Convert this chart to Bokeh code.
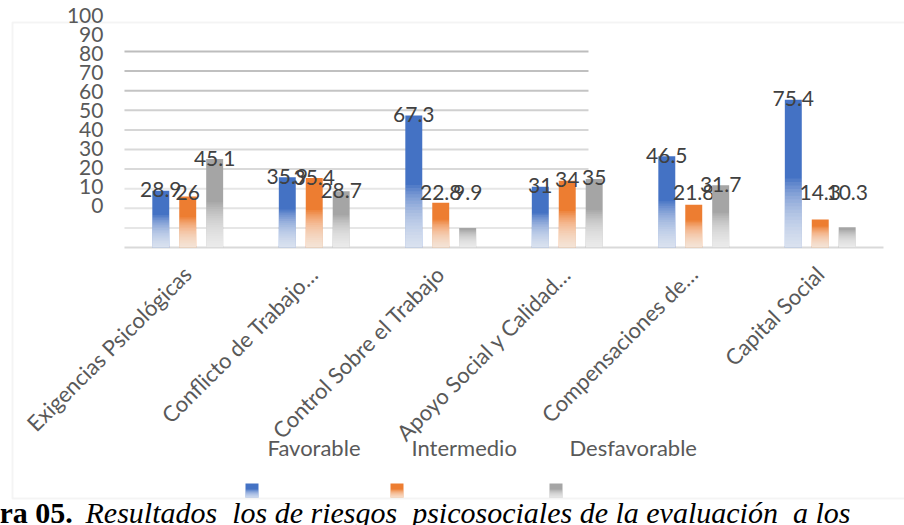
import math

from bokeh.core.properties import value
from bokeh.embed import file_html
from bokeh.models import (BoxAnnotation, ColumnDataSource, FixedTicker,
                          Label, LinearAxis, Range1d)
from bokeh.plotting import figure
from bokeh.resources import INLINE
from bokeh.transform import dodge

# ---------------------------------------------------------------- data
categories = [
    "Exigencias Psicológicas",
    "Conflicto de Trabajo…",
    "Control Sobre el Trabajo",
    "Apoyo Social y Calidad…",
    "Compensaciones de…",
    "Capital Social",
]
series_names = ["Favorable", "Intermedio", "Desfavorable"]
favorable = [28.9, 35.9, 67.3, 31, 46.5, 75.4]
intermedio = [26, 35.4, 22.8, 34, 21.8, 14.3]
desfavorable = [45.1, 28.7, 9.9, 35, 31.7, 10.3]
tick_labels = [0, 10, 20, 30, 40, 50, 60, 70, 80, 90, 100]
grid_values = [10, 20, 30, 40, 50, 60, 70, 80, 90, 100]
caption_bold = "ra 05."
caption_italic = ("Resultados\u00a0 los de riesgos\u00a0 psicosociales de la "
                  "evaluación\u00a0 a los")

# ---------------------------------------------------------------- style
FONT = "Lato"
SERIF = "Liberation Serif"
colors = ["#4472C4", "#ED7D31", "#A5A5A5"]
offsets = [-0.213, 0.0, 0.213]
BAR_W = 0.134
TEXT_GREY = "#595959"
LABEL_GREY = "#404040"
grid_colors = ["#e6e6e6", "#e3e3e3", "#e6e6e6", "#d9d9d9", "#d9d9d9",
               "#d6d6d6", "#d0d0d0", "#c4c4c4", "#c0c0c0", "#bdbdbd"]

W, H = 904, 525
X_RANGE = (-0.980, 6.166)      # category slots 0..6 plus the surrounding page
Y_RANGE = (-141.8, 126.0)      # value axis, zero sits on the category baseline
LABEL_RANGE = (-168.4, 107.9)  # range used by the printed value scale
GRID_END = 3.668               # horizontal gridlines stop part way across
LABEL_FLOOR = 27.5             # data labels never sit lower than this

p = figure(
    width=W, height=H,
    x_range=Range1d(*X_RANGE), y_range=Range1d(*Y_RANGE),
    x_axis_location=None, y_axis_location=None,
    output_backend="svg", toolbar_location=None,
    min_border=0, min_border_left=0, min_border_right=0,
    min_border_top=0, min_border_bottom=0,
    background_fill_color="white", border_fill_color="white",
)
p.outline_line_color = None
p.grid.grid_line_color = None

# outer chart box (top and left edges visible on the page)
p.add_layout(BoxAnnotation(
    left=12, right=W + 20, top=H - 22, bottom=H - 498,
    left_units="screen", right_units="screen", top_units="screen", bottom_units="screen",
    fill_alpha=0, line_color="#d9d9d9", line_width=2, level="underlay",
))

positions = [i + 0.5 for i in range(len(categories))]

# horizontal gridlines and the category baseline
p.segment(x0=[0] * len(grid_values), x1=[GRID_END] * len(grid_values),
          y0=grid_values, y1=grid_values, line_color=grid_colors, line_width=2)
p.segment(x0=[0], x1=[len(categories)], y0=[0], y1=[0], line_color="#d9d9d9", line_width=2)

# printed value scale on the left
p.extra_y_ranges = {"lab": Range1d(*LABEL_RANGE)}
lab_axis = LinearAxis(
    y_range_name="lab", ticker=FixedTicker(ticks=tick_labels), fixed_location=0,
    axis_line_color=None, major_tick_line_color=None, minor_tick_line_color=None,
    major_tick_out=0, major_tick_in=0, major_label_standoff=21,
    major_label_text_font=FONT, major_label_text_font_size="21px",
    major_label_text_color=TEXT_GREY,
)
p.add_layout(lab_axis, "left")

# bars with a fade towards the baseline
N_FADE = 20
for vals, col, off in zip([favorable, intermedio, desfavorable], colors, offsets):
    src = ColumnDataSource(dict(pos=positions, v=vals))
    p.vbar(x=dodge("pos", off), top="v", bottom=0, width=BAR_W,
           fill_color=col, line_color=None, source=src)
    fade_pos, fade_top = [], []
    for x, v in zip(positions, vals):
        f_top = min(v, 0.4 * v + 5)
        for k in range(N_FADE):
            fade_pos.append(x)
            fade_top.append(f_top * (k + 1) / N_FADE)
    p.vbar(x=dodge("pos", off), top="t", bottom=0, width=BAR_W,
           fill_color="white", fill_alpha=0.082, line_color=None,
           source=ColumnDataSource(dict(pos=fade_pos, t=fade_top)))
    p.text(x=dodge("pos", off), y="ly", text="txt",
           source=ColumnDataSource(dict(pos=positions,
                                        ly=[max(v, LABEL_FLOOR) for v in vals],
                                        txt=[f"{v:g}" for v in vals])),
           text_align="center", text_baseline="alphabetic", y_offset=-1,
           text_font=value(FONT), text_font_size="21px", text_color=LABEL_GREY)

# rotated category labels, anchored under each category centre
for x, c in zip(positions, categories):
    p.add_layout(Label(x=x, y=0, text=c, angle=math.pi / 4, x_offset=-10, y_offset=-13,
                       text_align="right", text_baseline="top",
                       text_font=FONT, text_font_size="22px", text_color=TEXT_GREY))

# legend: names above, swatches below
legend_text_x = [267, 411, 569]
legend_swatch_x = [245, 390, 549]
for name, col, tx, sx in zip(series_names, colors, legend_text_x, legend_swatch_x):
    p.add_layout(Label(x=tx, y=H - 447, x_units="screen", y_units="screen",
                       text=name, text_align="left", text_baseline="middle",
                       text_font=FONT, text_font_size="22px", text_color=TEXT_GREY))
    box = dict(left=sx, right=sx + 13,
               left_units="screen", right_units="screen", top_units="screen", bottom_units="screen",
               line_color=None)
    p.add_layout(BoxAnnotation(top=H - 483, bottom=H - 497,
                               fill_color=col, fill_alpha=1, **box))
    for k in range(1, 9):
        p.add_layout(BoxAnnotation(top=H - 497 + k, bottom=H - 497,
                                   fill_color="white", fill_alpha=0.15, **box))

# caption below the chart
p.add_layout(Label(x=-1, y=H - 512, x_units="screen", y_units="screen",
                   text=caption_bold, text_font=SERIF, text_font_style="bold",
                   text_font_size="30px", text_color="black", text_baseline="middle"))
p.add_layout(Label(x=85, y=H - 512, x_units="screen", y_units="screen",
                   text=caption_italic, text_font=SERIF, text_font_style="italic",
                   text_font_size="30px", text_color="black", text_baseline="middle"))

open("out.html", "w").write(file_html(p, INLINE))
